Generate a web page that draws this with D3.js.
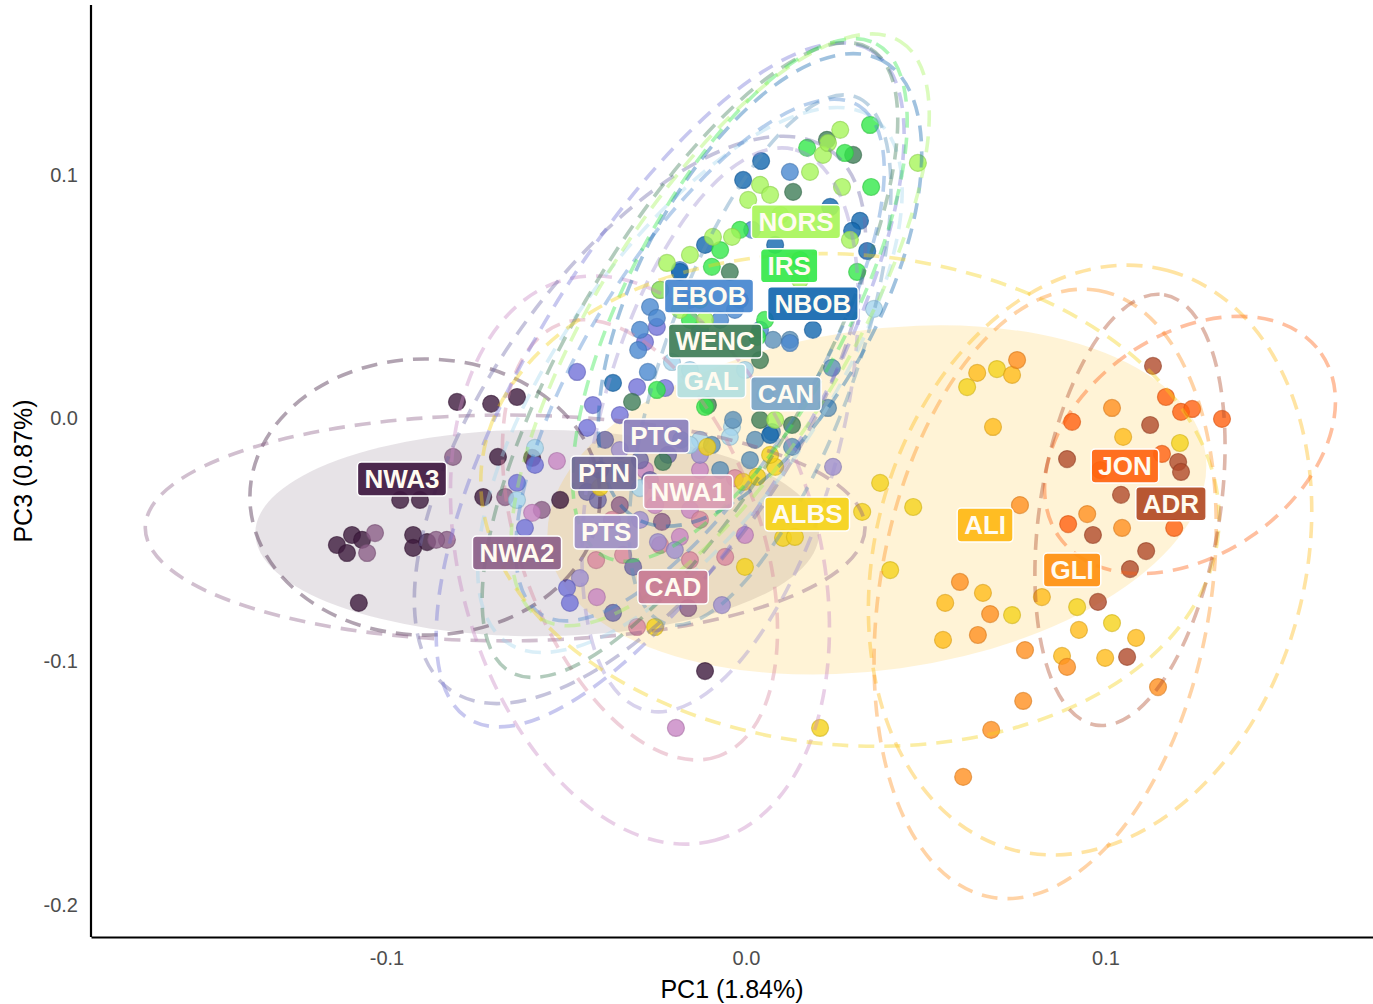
<!DOCTYPE html>
<html>
<head>
<meta charset="utf-8">
<script src="https://cdn.jsdelivr.net/npm/d3@7"></script>
<style>
  body { margin: 0; background: #fff; }
  text { font-family: "Liberation Sans", Arial, sans-serif; }
</style>
</head>
<body>
<div id="chart"></div>
<script>
// population names, drawing order
var pops = ["NWA3", "NWA2", "NWA1", "CAD", "PTS", "PTN", "PTC", "GAL", "CAN", "WENC",
            "EBOB", "NBOB", "IRS", "NORS", "ALBS", "ALI", "GLI", "JON", "ADR"];

var pointColors = ["#3d1a3d", "#8c5f88", "#c886c4", "#d8879f", "#9d8fd0", "#6f6aa8", "#7272d8", "#a6d6ee", "#5b90b8", "#3f7d57",
                   "#4a88d0", "#1266ae", "#33e84a", "#a6f55a", "#f5d21a", "#ffbb1a", "#ff9020", "#ff6010", "#b04a2a"];
var labelColors = ["#3e1840", "#8c5f88", "#d89ab2", "#c77a94", "#9d8fc6", "#6f6797", "#8a7fbd", "#b3dfe0", "#7aa5c8", "#3f7d57",
                   "#4585cf", "#1267af", "#35e84a", "#a8f55a", "#f5d218", "#ffb914", "#ff9010", "#ff6410", "#b24a24"];

// PC1 / PC3 scores per population
var nwa3 = [[-0.0804,0.0066],[-0.0709,0.0058],[-0.0637,0.0086],[-0.0690,-0.0160],[-0.0595,-0.0164],[-0.0731,-0.0325],
            [-0.0962,-0.0337],[-0.0907,-0.0337],[-0.1138,-0.0522],[-0.1096,-0.0481],[-0.1110,-0.0555],[-0.1068,-0.0501],
            [-0.0926,-0.0481],[-0.0926,-0.0534],[-0.0887,-0.0510],[-0.1077,-0.0760],[-0.0114,-0.1040],[-0.0517,-0.0337]];
var nwa2 = [[-0.0815,-0.0160],[-0.0670,-0.0325],[-0.0568,-0.0378],[-0.1054,-0.0555],[-0.1032,-0.0473],[-0.0832,-0.0501],
            [-0.0234,-0.0427],[-0.0161,-0.0781],[-0.0862,-0.0501],[-0.0351,-0.0358]];
var nwa1 = [[-0.0595,-0.0390],[-0.0526,-0.0177],[-0.0195,-0.1274],[-0.0184,-0.0489],[-0.0003,-0.0481],[-0.0415,-0.0736],
            [-0.0128,-0.0214],[-0.0281,-0.0214],[-0.0156,-0.0378],[-0.0253,-0.0358]];
var cad  = [[-0.0342,-0.0563],[-0.0058,-0.0571],[-0.0303,-0.0859],[-0.0239,-0.0522],[-0.0373,-0.0419],[-0.0417,-0.0584],
            [-0.0156,-0.0584],[-0.0031,-0.0247],[-0.0128,-0.0419]];
var pts  = [[-0.0067,-0.0769],[-0.0245,-0.0510],[-0.0198,-0.0543],[0.0242,-0.0201],[-0.0462,-0.0658],[-0.0351,-0.0132],
            [-0.0128,-0.0152],[-0.0295,-0.0419]];
var ptn  = [[-0.0370,-0.0801],[-0.0314,-0.0612],[-0.0406,-0.0214],[-0.0442,-0.0304],[-0.0392,-0.0090],[-0.0295,-0.0173],
            [-0.0412,-0.0337],[-0.0217,-0.0152],[-0.0267,-0.0255]];
var ptc  = [[-0.0470,0.0189],[-0.0426,0.0053],[-0.0442,-0.0041],[-0.0637,-0.0267],[-0.0587,-0.0193],[-0.0498,-0.0699],
            [-0.0490,-0.0760],[-0.0615,-0.0452],[-0.0303,0.0127],[-0.0248,0.0374],[-0.0281,0.0312],[-0.0225,0.0123],
            [-0.0351,0.0012]];
var gal  = [[-0.0587,-0.0123],[-0.0637,-0.0337],[0.0356,0.0448],[-0.0039,-0.0037],[-0.0128,-0.0090],[-0.0351,-0.0214],
            [-0.0295,-0.0288],[0.0053,0.0095],[-0.0045,-0.0078],[-0.0206,0.0230],[-0.0003,0.0197],[-0.0156,0.0197],
            [-0.0156,-0.0111]];
var can  = [[0.0239,0.0206],[0.0228,0.0041],[0.0072,-0.0058],[0.0128,-0.0119],[0.0011,-0.0173],[0.0025,-0.0090],
            [-0.0036,-0.0008],[0.0122,0.0321],[-0.0095,-0.0111],[-0.0181,-0.0090],[0.0075,0.0321],[-0.0072,-0.0214]];
var wenc = [[0.0225,0.1143],[0.0298,0.1081],[0.0131,0.0929],[-0.0045,0.0600],[0.0128,-0.0029],[-0.0317,0.0066],
            [-0.0231,-0.0181],[0.0039,0.0238],[-0.0106,0.0053],[0.0039,-0.0008]];
var ebob = [[0.0122,0.1011],[-0.0267,0.0456],[-0.0248,0.0411],[-0.0273,0.0189],[-0.0300,0.0279],[0.0122,0.0308],
            [-0.0128,0.0362],[-0.0072,0.0403],[-0.0184,0.0608],[0.0017,0.0773],[-0.0239,0.0526],[-0.0156,0.0485],
            [-0.0031,0.0444],[0.0039,0.0362],[-0.0295,0.0362]];
var nbob = [[0.0042,0.1056],[-0.0008,0.0978],[0.0317,0.0810],[0.0295,0.0769],[0.0337,0.0686],[-0.0114,0.0711],
            [-0.0184,0.0600],[-0.0370,0.0144],[0.0186,0.0362],[0.0234,0.0867],[0.0081,0.0711],[-0.0017,0.0485],
            [0.0067,-0.0070]];
var irs  = [[0.0345,0.1204],[0.0170,0.1110],[0.0275,0.1089],[0.0348,0.0949],[0.0309,0.0600],[-0.0072,0.0690],
            [-0.0095,0.0621],[-0.0248,0.0115],[-0.0114,0.0045],[-0.0017,0.0773],[0.0150,0.0649],[-0.0156,0.0403],
            [0.0031,0.0333],[-0.0128,0.0485],[0.0053,0.0403]];
var nors = [[0.0262,0.1184],[0.0214,0.1081],[0.0178,0.1011],[0.0267,0.0949],[0.0478,0.1048],[0.0039,0.0958],
            [0.0006,0.0896],[0.0067,0.0917],[-0.0092,0.0744],[-0.0039,0.0744],[0.0289,0.0732],[-0.0220,0.0637],
            [-0.0239,0.0526],[0.0150,0.0567],[0.0095,0.0834],[0.0228,0.1130],[-0.0156,0.0670],[0.0081,-0.0008],
            [-0.0114,0.0403],[-0.0184,0.0444]];
var albs = [[0.0373,-0.0267],[0.0323,-0.0386],[0.0465,-0.0366],[0.0401,-0.0625],[0.0206,-0.1274],[0.0103,-0.0493],
            [0.0136,-0.0489],[-0.0003,-0.0612],[0.0081,-0.0201],[0.0031,-0.0242],[-0.0008,-0.0263],[-0.0108,-0.0119],
            [-0.0253,-0.0859],[0.1207,-0.0103],[0.0615,0.0127],[0.0740,-0.0810],[0.0921,-0.0777],[0.1018,-0.0843],
            [0.0698,0.0201],[-0.0406,-0.0284],[0.0067,-0.0152]];
var ali  = [[0.0643,0.0185],[0.0687,-0.0037],[0.0659,-0.0719],[0.0554,-0.0760],[0.0548,-0.0912],[0.0823,-0.0736],
            [0.0926,-0.0871],[0.0879,-0.0978],[0.0999,-0.0986],[0.1085,-0.0904],[0.1049,-0.0078],[0.0740,0.0177]];
var gli  = [[0.0754,0.0238],[0.0762,-0.0358],[0.0595,-0.0674],[0.0679,-0.0806],[0.0645,-0.0892],[0.0776,-0.0954],
            [0.0893,-0.1023],[0.0771,-0.1163],[0.0682,-0.1282],[0.0604,-0.1475],[0.1146,-0.1106],[0.0949,-0.0395],
            [0.1018,0.0041],[0.1046,-0.0452]];
var jon  = [[0.1168,0.0086],[0.1210,0.0025],[0.1241,0.0037],[0.1324,-0.0004],[0.0907,-0.0016],[0.1157,-0.0148],
            [0.0896,-0.0436],[0.1191,-0.0452],[0.0985,-0.0214]];
var adr  = [[0.1132,0.0214],[0.1124,-0.0029],[0.0893,-0.0169],[0.1202,-0.0181],[0.1210,-0.0222],[0.1043,-0.0316],
            [0.0965,-0.0481],[0.1113,-0.0547],[0.1068,-0.0621],[0.0979,-0.0756],[0.1060,-0.0982]];

var scores = [nwa3, nwa2, nwa1, cad, pts, ptn, ptc, gal, can, wenc, ebob, nbob, irs, nors, albs, ali, gli, jon, adr];

// 95% ellipses per population: [cx, cy, semi-major, semi-minor (PC1 units), angle deg]
var ellipses = [[-0.0893,-0.0325,0.0487,0.0384,0], [-0.0670,-0.0452,0.1001,0.0314,0], [-0.0295,-0.0584,0.0807,0.0501,75],
                [-0.0295,-0.0501,0.0640,0.0334,70], [-0.0072,-0.0049,0.0807,0.0334,-75], [-0.0295,-0.0008,0.0918,0.0417,-55],
                [-0.0211,0.0136,0.1085,0.0389,-59], [-0.0156,0.0156,0.0890,0.0362,-55], [0.0039,0.0238,0.0779,0.0264,-70],
                [-0.0156,0.0238,0.1001,0.0334,-60], [-0.0128,0.0238,0.0834,0.0306,-58], [0.0039,0.0526,0.0723,0.0334,-62],
                [-0.0017,0.0485,0.0807,0.0306,-62], [-0.0072,0.0362,0.0946,0.0348,-58], [0.0289,-0.0337,0.1029,0.0682,5],
                [0.0957,-0.0584,0.0834,0.0598,-75], [0.0832,-0.0723,0.0857,0.0459,-80], [0.1235,-0.0111,0.0445,0.0306,-35],
                [0.1068,-0.0378,0.0606,0.0250,-81]];

// filled ellipses of the two main clusters
var fillEllipses = [[-0.0581,-0.0473,0.0784,0.0287,0,"#3d1a3d"], [0.0364,-0.0337,0.0923,0.0473,-8,"#ffbb1a"]];

// label anchors (PC1, PC3)
var labelPos = [[-0.0957,-0.0251],[-0.0637,-0.0555],[-0.0161,-0.0304],[-0.0203,-0.0695],[-0.0389,-0.0469],[-0.0395,-0.0226],
                [-0.0250,-0.0074],[-0.0097,0.0152],[0.0111,0.0099],[-0.0086,0.0316],[-0.0103,0.0501],[0.0186,0.0469],
                [0.0120,0.0625],[0.0139,0.0806],[0.0170,-0.0395],[0.0665,-0.0440],[0.0907,-0.0625],[0.1054,-0.0197],
                [0.1182,-0.0353]];

var xTicks = [-0.1, 0.0, 0.1];
var yTicks = [-0.2, -0.1, 0.0, 0.1];

var margin = { top: 5, right: 0, bottom: 67, left: 91 };
var width = 1373 - margin.left - margin.right;
var height = 1004 - margin.top - margin.bottom;

var xScale = d3.scaleLinear().domain([-0.1822, 0.1744]).range([0, width]);
var yScale = d3.scaleLinear().domain([-0.2133, 0.1697]).range([height, 0]);

var svg = d3.select('#chart').append('svg')
    .attr("width", width + margin.left + margin.right)
    .attr("height", height + margin.top + margin.bottom);
var chart = svg.append("g")
    .attr("transform", "translate(" + margin.left + "," + margin.top + ")");

function pxLen(v) { return xScale(v) - xScale(0); }

// filled ellipses
chart.append("g").selectAll("ellipse")
    .data(fillEllipses).enter().append("ellipse")
    .attr("transform", function(d) { return "translate(" + xScale(d[0]) + "," + yScale(d[1]) + ") rotate(" + d[4] + ")"; })
    .attr("rx", function(d) { return pxLen(d[2]); })
    .attr("ry", function(d) { return pxLen(d[3]); })
    .attr("fill", function(d) { return d[5]; })
    .attr("fill-opacity", function(d, i) { return i == 0 ? 0.12 : 0.18; });

// points
pops.forEach(function(p, i) {
    var c = pointColors[i];
    chart.append("g").selectAll("circle")
        .data(scores[i]).enter().append("circle")
        .attr("cx", function(d) { return xScale(d[0]); })
        .attr("cy", function(d) { return yScale(d[1]); })
        .attr("r", 8.5)
        .attr("fill", c)
        .attr("fill-opacity", 0.8)
        .attr("stroke", d3.color(c).darker(0.5))
        .attr("stroke-opacity", 0.6)
        .attr("stroke-width", 1.2);
});

// dashed ellipses
chart.append("g").selectAll("ellipse")
    .data(ellipses).enter().append("ellipse")
    .attr("transform", function(d) { return "translate(" + xScale(d[0]) + "," + yScale(d[1]) + ") rotate(" + d[4] + ")"; })
    .attr("rx", function(d) { return pxLen(d[2]); })
    .attr("ry", function(d) { return pxLen(d[3]); })
    .attr("fill", "none")
    .attr("stroke", function(d, i) { return pointColors[i]; })
    .attr("stroke-opacity", 0.4)
    .attr("stroke-width", 3.6)
    .attr("stroke-dasharray", "16,10");

// axes
var xAxis = chart.append("g")
    .attr("transform", "translate(0," + height + ")")
    .call(d3.axisBottom(xScale).tickValues(xTicks).tickSize(0).tickSizeOuter(0).tickPadding(14)
        .tickFormat(function(v) { return v.toFixed(1); }));
var yAxis = chart.append("g")
    .call(d3.axisLeft(yScale).tickValues(yTicks).tickSize(0).tickSizeOuter(0).tickPadding(13)
        .tickFormat(function(v) { return v.toFixed(1); }));
[xAxis, yAxis].forEach(function(a) {
    a.select(".domain").attr("stroke", "#000").attr("stroke-width", 2.2);
    a.selectAll("text").attr("font-size", 20).attr("fill", "#4d4d4d")
        .attr("font-family", '"Liberation Sans", Arial, sans-serif');
});
yAxis.select(".domain").attr("d", "M0," + height + "V0");

svg.append("text")
    .attr("x", margin.left + width / 2)
    .attr("y", 998)
    .attr("text-anchor", "middle")
    .attr("font-size", 25)
    .text("PC1 (1.84%)");
svg.append("text")
    .attr("transform", "translate(32," + (margin.top + height / 2) + ") rotate(-90)")
    .attr("text-anchor", "middle")
    .attr("font-size", 25)
    .text("PC3 (0.87%)");

// population labels
pops.forEach(function(p, i) {
    var lx = xScale(labelPos[i][0]), ly = yScale(labelPos[i][1]);
    var g = chart.append("g").attr("transform", "translate(" + lx + "," + ly + ")");
    var rect = g.append("rect");
    var t = g.append("text")
        .attr("text-anchor", "middle")
        .attr("dy", "0.36em")
        .attr("font-size", 26)
        .attr("font-weight", "bold")
        .attr("fill", "#fffbf0")
        .text(p);
    var w = t.node().getComputedTextLength() + 14;
    rect.attr("x", -w / 2).attr("y", -17).attr("width", w).attr("height", 34)
        .attr("rx", 4)
        .attr("fill", labelColors[i])
        .attr("fill-opacity", 0.92)
        .attr("stroke", "#fff")
        .attr("stroke-width", 1.5);
});
</script>
</body>
</html>
